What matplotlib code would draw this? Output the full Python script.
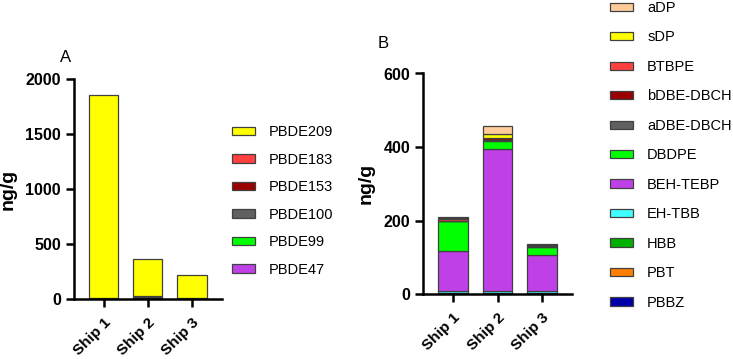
import matplotlib
matplotlib.use("Agg")
import matplotlib.pyplot as plt
from matplotlib.patches import Patch
import numpy as np

plt.rcParams['font.family'] = ['Liberation Sans', 'DejaVu Sans']

ships = ["Ship 1", "Ship 2", "Ship 3"]

# Panel A (bottom to top)
a_names = ["PBDE47", "PBDE99", "PBDE100", "PBDE153", "PBDE183", "PBDE209"]
pbde47 = [1, 3, 1]
pbde99 = [1, 3, 1]
pbde100 = [1, 5, 1]
pbde153 = [1, 8, 1]
pbde183 = [1, 3, 1]
pbde209 = [1849, 340, 211]
a_values = [pbde47, pbde99, pbde100, pbde153, pbde183, pbde209]
a_colors = ["#C040E8", "#00FF00", "#606060", "#990000", "#FF4040", "#FFFF00"]

# Panel B (bottom to top)
b_names = ["PBBZ", "PBT", "HBB", "EH-TBB", "BEH-TEBP", "DBDPE",
           "aDBE-DBCH", "bDBE-DBCH", "BTBPE", "sDP", "aDP"]
pbbz = [0.5, 0.5, 0.5]
pbt = [1, 1, 1]
hbb = [3, 3, 3]
eh_tbb = [4.5, 4.5, 4.5]
beh_tebp = [109, 385, 98]
dbdpe = [80, 23, 21]
adbe_dbch = [1, 3, 1]
bdbe_dbch = [1, 4, 1]
btbpe = [4, 1, 3]
sdp = [2, 11, 1]
adp = [4, 20, 3]
b_values = [pbbz, pbt, hbb, eh_tbb, beh_tebp, dbdpe, adbe_dbch, bdbe_dbch, btbpe, sdp, adp]
b_colors = ["#0000AA", "#FF8000", "#00B000", "#40FFFF", "#C040E8", "#00FF00",
            "#606060", "#990000", "#FF4040", "#FFFF00", "#FFCC99"]

W, H = 733, 359
fig = plt.figure(figsize=(W / 100, H / 100), dpi=100)

def fx(px):
    return px / W

def fy(py):
    return 1 - py / H

edge = "#404040"

def style_axes(ax, ymax, yticks):
    for s in ["top", "right"]:
        ax.spines[s].set_visible(False)
    for s in ["left", "bottom"]:
        ax.spines[s].set_linewidth(1.8)
    ax.set_xlim(-0.67, 2.67)
    ax.set_ylim(0, ymax)
    ax.set_yticks(yticks)
    ax.set_xticks(range(len(ships)))
    ax.set_xticklabels(ships, rotation=45, ha="right", rotation_mode="anchor",
                       fontsize=11, fontweight="bold")
    for lab in ax.get_yticklabels():
        lab.set_fontweight("bold")
        lab.set_fontsize(11.5)
    ax.tick_params(axis="both", width=1.8, length=6, direction="out")
    ax.tick_params(axis="x", pad=6)
    ax.set_ylabel("ng/g", fontsize=14, fontweight="bold", labelpad=6)

def stack(ax, values, colors):
    x = np.arange(len(ships))
    bottom = np.zeros(len(ships))
    for v, c in zip(values, colors):
        ax.bar(x, v, 0.66, bottom=bottom, color=c, edgecolor=edge, linewidth=0.9)
        bottom += np.array(v)

# Panel A
axA = fig.add_axes([fx(74), fy(298.7), fx(221.7 - 74), fy(79.3) - fy(298.7)])
stack(axA, a_values, a_colors)
style_axes(axA, 2000, [0, 500, 1000, 1500, 2000])
fig.text(fx(60), fy(57), "A", fontsize=12, va="center", ha="left")

handlesA = [Patch(facecolor=c, edgecolor=edge, linewidth=0.9, label=n)
            for n, c in zip(a_names, a_colors)][::-1]
fig.legend(handles=handlesA, loc="upper left",
           bbox_to_anchor=(fx(232), fy(125)), frameon=False, fontsize=10.5,
           handlelength=1.6, handleheight=0.5, handletextpad=0.95,
           labelspacing=0.93, borderaxespad=0, borderpad=0)

# Panel B
axB = fig.add_axes([fx(423.3), fy(294.3), fx(571.7 - 423.3), fy(73.5) - fy(294.3)])
stack(axB, b_values, b_colors)
style_axes(axB, 600, [0, 200, 400, 600])
fig.text(fx(378), fy(44), "B", fontsize=12, va="center", ha="left")

handlesB = [Patch(facecolor=c, edgecolor=edge, linewidth=0.9, label=n)
            for n, c in zip(b_names, b_colors)][::-1]
fig.legend(handles=handlesB, loc="upper left",
           bbox_to_anchor=(fx(610), fy(1)), frameon=False, fontsize=10.5,
           handlelength=1.6, handleheight=0.5, handletextpad=0.95,
           labelspacing=1.06, borderaxespad=0, borderpad=0)

fig.savefig("out.png", dpi=100)
